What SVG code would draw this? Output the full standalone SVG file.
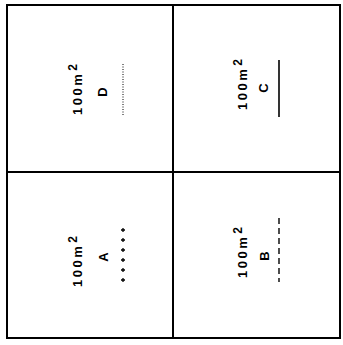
<svg xmlns="http://www.w3.org/2000/svg" width="343" height="345" viewBox="0 0 343 345">
<style>
.t{font-family:"Liberation Sans",Arial,sans-serif;font-weight:bold;font-size:13px;letter-spacing:2.5px;fill:#000}
.l{font-family:"Liberation Sans",Arial,sans-serif;font-weight:bold;font-size:13px;fill:#000;text-anchor:middle}
.s{font-size:12px}
.frame{fill:none;stroke:#000;stroke-width:2}
</style>
<rect width="343" height="345" fill="#fff"/>
<g id="grid">
<rect class="frame" x="7" y="5" width="333" height="333"/>
<line x1="173" y1="5" x2="173" y2="338" stroke="#000" stroke-width="2"/>
<line x1="7" y1="172" x2="340" y2="172" stroke="#000" stroke-width="2"/>
</g>
<g id="D">
<text class="t" transform="translate(82,115) rotate(-90)">100m<tspan class="s" dx="1" dy="-5">2</tspan></text>
<text class="l" transform="translate(107,92) rotate(-90)">D</text>
<line x1="123" y1="64" x2="123" y2="116" stroke="#000" stroke-width="1" stroke-dasharray="1 1.5"/>
</g>
<g id="C">
<text class="t" transform="translate(247,110) rotate(-90)">100m<tspan class="s" dx="1" dy="-5">2</tspan></text>
<text class="l" transform="translate(268,88) rotate(-90)">C</text>
<line x1="279" y1="60" x2="279" y2="117" stroke="#000" stroke-width="1.6"/>
</g>
<g id="A">
<text class="t" transform="translate(82,287) rotate(-90)">100m<tspan class="s" dx="1" dy="-5">2</tspan></text>
<text class="l" transform="translate(108,257) rotate(-90)">A</text>
<path d="M123 228v4M121 230h4M123 238v4M121 240h4M123 248v4M121 250h4M123 258v4M121 260h4M123 268v4M121 270h4M123 278v4M121 280h4" stroke="#000" stroke-width="1.3"/>
</g>
<g id="B">
<text class="t" transform="translate(247,278) rotate(-90)">100m<tspan class="s" dx="1" dy="-5">2</tspan></text>
<text class="l" transform="translate(269,256) rotate(-90)">B</text>
<line x1="279" y1="218" x2="279" y2="282" stroke="#000" stroke-width="1.4" stroke-dasharray="6 4"/>
</g>
</svg>
